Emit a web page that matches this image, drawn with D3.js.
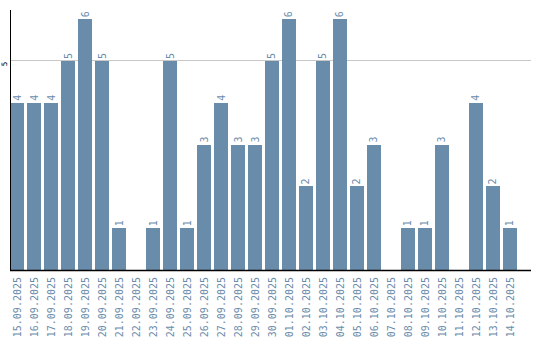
<!DOCTYPE html>
<html><head><meta charset="utf-8">
<script src="https://cdn.jsdelivr.net/npm/d3@7/dist/d3.min.js"></script>
<style>body{margin:0;background:#fff}svg{display:block}</style>
</head><body>
<svg id="c" width="540" height="340"></svg>
<script>
const dates = ["15.09.2025","16.09.2025","17.09.2025","18.09.2025","19.09.2025","20.09.2025","21.09.2025","22.09.2025","23.09.2025","24.09.2025","25.09.2025","26.09.2025","27.09.2025","28.09.2025","29.09.2025","30.09.2025","01.10.2025","02.10.2025","03.10.2025","04.10.2025","05.10.2025","06.10.2025","07.10.2025","08.10.2025","09.10.2025","10.10.2025","11.10.2025","12.10.2025","13.10.2025","14.10.2025"];
const counts = [4,4,4,5,6,5,1,0,1,5,1,3,4,3,3,5,6,2,5,6,2,3,0,1,1,3,0,4,2,1];
const yTicks = [5];

const svg = d3.select("#c");
const color = "#6a8cab";
const font = "DejaVu Sans Mono, monospace";
const x = d3.scaleBand().domain(dates).range([10, 517]).paddingInner(0.176).paddingOuter(0);
const y = d3.scaleLinear().domain([0, 6.22]).range([270, 10]);

// gridlines
svg.append("g").selectAll("line").data(yTicks).join("line")
  .attr("x1", 10).attr("x2", 531).attr("y1", d => y(d)).attr("y2", d => y(d))
  .attr("stroke", "#c8c8c8").attr("stroke-width", 1).attr("shape-rendering","crispEdges");

// y tick labels
svg.append("g").selectAll("text").data(yTicks).join("text")
  .attr("transform", d => `translate(7,${y(d) + 3}) rotate(-90)`)
  .attr("text-anchor", "middle").attr("font-family", font).attr("font-size", 7.5)
  .attr("fill", "#000").text(d => d);

// bars
const data = dates.map((d, i) => ({d, v: counts[i]}));
svg.append("g").selectAll("rect").data(data.filter(e => e.v > 0)).join("rect")
  .attr("x", e => x(e.d)).attr("width", x.bandwidth())
  .attr("y", e => y(e.v)).attr("height", e => y(0) - y(e.v))
  .attr("fill", color).attr("shape-rendering","crispEdges");

// value labels
svg.append("g").selectAll("text").data(data.filter(e => e.v > 0)).join("text")
  .attr("transform", e => `translate(${x(e.d) + x.bandwidth()/2 + 3.5},${y(e.v) - 2}) rotate(-90)`)
  .attr("text-anchor", "start").attr("font-family", font).attr("font-size", 10)
  .attr("fill", color).text(e => e.v);

// axes lines
svg.append("line").attr("x1", 10.5).attr("x2", 10.5).attr("y1", 10).attr("y2", 270)
  .attr("stroke", "#000").attr("stroke-width", 1);
svg.append("line").attr("x1", 10).attr("x2", 531).attr("y1", 270.5).attr("y2", 270.5)
  .attr("stroke", "#000").attr("stroke-width", 1.5);

// x labels
svg.append("g").selectAll("text").data(dates).join("text")
  .attr("transform", d => `translate(${x(d) + x.bandwidth()/2 + 4},277) rotate(-90)`)
  .attr("text-anchor", "end").attr("font-family", font).attr("font-size", 10)
  .attr("fill", color).text(d => d);
</script>
</body></html>
